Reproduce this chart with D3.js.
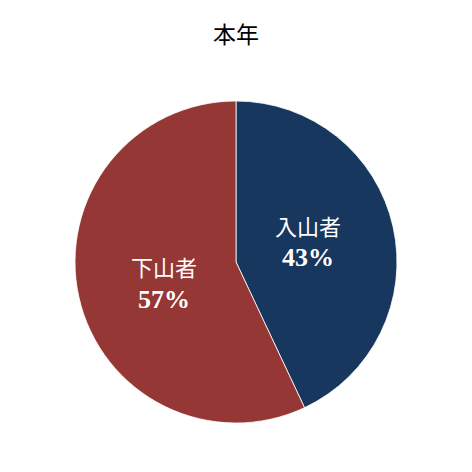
<!DOCTYPE html>
<html><head><meta charset="utf-8">
<script src="https://cdn.jsdelivr.net/npm/d3@7"></script>
<style>body{margin:0;background:#fff}</style>
</head><body>
<svg id="c" width="472" height="472"></svg>
<script>
const title = "本年";
const categories = ["入山者", "下山者"];
const values = [43, 57];
const colors = ["#17375E", "#953735"];

const svg = d3.select("#c");
const cx = 236, cy = 262, r = 161;
svg.append("rect").attr("width",472).attr("height",472).attr("fill","#fff");
svg.append("text").attr("x",236).attr("y",33).attr("text-anchor","middle")
  .attr("dominant-baseline","central")
  .attr("font-family","'Noto Sans CJK JP'").attr("font-size",23).attr("fill","#000").text(title);

const data = categories.map((c,i)=>({cat:c,val:values[i],color:colors[i]}));
const pie = d3.pie().value(d=>d.val).sort(null);
const arc = d3.arc().innerRadius(0).outerRadius(r);
const g = svg.append("g").attr("transform",`translate(${cx},${cy})`);
const arcs = pie(data);
g.selectAll("path").data(arcs).join("path").attr("d",arc)
  .attr("fill",d=>d.data.color).attr("stroke","#fff").attr("stroke-width",0.8);
const total = d3.sum(values);
const lr = r*0.465, off = -3.5*Math.PI/180;
const lab = g.selectAll("g.lab").data(arcs).join("g").attr("class","lab")
  .attr("transform",d=>{const a=(d.startAngle+d.endAngle)/2+off;
    return `translate(${lr*Math.sin(a)},${-lr*Math.cos(a)})`;});
lab.append("text").attr("text-anchor","middle").attr("dominant-baseline","central")
  .attr("y",-16.5).attr("fill","#fff").attr("font-family","'Noto Sans CJK JP'")
  .attr("font-size",22).text(d=>d.data.cat);
lab.append("text").attr("text-anchor","middle").attr("dominant-baseline","central")
  .attr("y",16.5).attr("fill","#fff").attr("font-family","'Liberation Serif'")
  .attr("font-weight","bold").attr("font-size",26)
  .text(d=>Math.round(d.data.val/total*100)+"%");
</script>
</body></html>
